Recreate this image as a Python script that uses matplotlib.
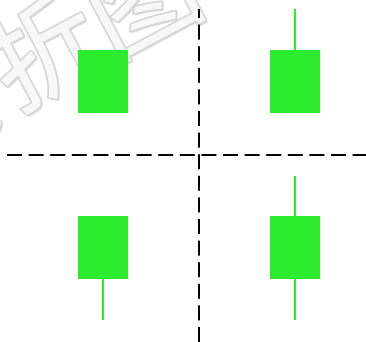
import matplotlib.pyplot as plt
import matplotlib.patheffects as pe

plt.rcParams['font.family'] = ['Noto Sans CJK SC', 'DejaVu Sans']

# four candles: x position, open, close, high, low
xs = [1, 2, 1, 2]
opens = [22.9, 22.9, 6.3, 6.3]
closes = [29.2, 29.2, 12.6, 12.6]
highs = [29.2, 33.3, 12.6, 16.6]
lows = [22.9, 22.9, 2.2, 2.2]
x_split = 1.5
y_split = 18.7
watermark = '转折图'

green = '#2deb2d'

fig = plt.figure(figsize=(3.66, 3.42), dpi=100)
ax = fig.add_axes([0, 0, 1, 1])
ax.set_xlim(0.4635, 2.370)
ax.set_ylim(0, 34.2)
ax.axis('off')

# faint embossed watermark behind the candles
ax.text(0.13, 0.83, watermark, transform=fig.transFigure, fontsize=80, rotation=28,
        ha='center', va='center', color='#f8f8f8', zorder=0,
        path_effects=[pe.withSimplePatchShadow(offset=(1.5, -1.5), shadow_rgbFace='#bbbbbb', alpha=0.5),
                      pe.Stroke(linewidth=2.5, foreground='#d6d6d6'), pe.Normal()])

for x, o, c, h, l in zip(xs, opens, closes, highs, lows):
    ax.vlines(x, l, h, color=green, lw=1.5, zorder=2)
    ax.bar(x, c - o, bottom=o, width=0.26, color=green, zorder=3)

dash = (0, (7.5, 3.3))
ax.plot([x_split, x_split], [0, 33.3], color='black', lw=1.44,
        linestyle=dash, zorder=1)
ax.plot([0.4635 + 7 / 192, 2.370], [y_split, y_split], color='black', lw=1.44,
        linestyle=dash, zorder=1)

fig.savefig('out.png', dpi=100)
